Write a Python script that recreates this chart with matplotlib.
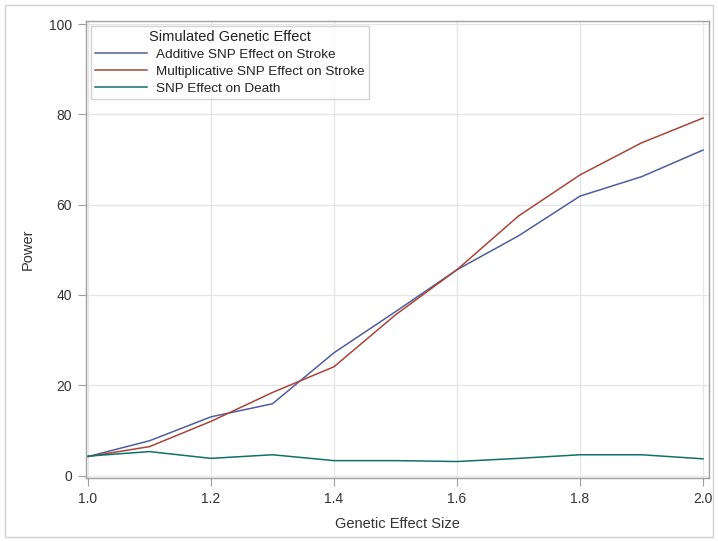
import numpy as np
import matplotlib
matplotlib.use("Agg")
import matplotlib.pyplot as plt
from matplotlib.patches import Rectangle

plt.rcParams['font.family'] = ['Liberation Sans', 'DejaVu Sans']

effect_size = [1.0, 1.1, 1.2, 1.3, 1.4, 1.5, 1.6, 1.7, 1.8, 1.9, 2.0]
additive = [4.2, 7.7, 13.0, 15.9, 27.2, 36.3, 45.6, 53.1, 61.9, 66.2, 72.1]
multiplicative = [4.2, 6.4, 12.0, 18.4, 24.1, 35.6, 45.6, 57.5, 66.6, 73.7, 79.2]
death = [4.3, 5.3, 3.8, 4.6, 3.3, 3.3, 3.1, 3.8, 4.6, 4.6, 3.7]

series_names = ["Additive SNP Effect on Stroke",
                "Multiplicative SNP Effect on Stroke",
                "SNP Effect on Death"]
colors = ["#4F5F99", "#A8453A", "#12706A"]

W, H = 718, 541
fig = plt.figure(figsize=(W / 100, H / 100), dpi=100)
ax = fig.add_axes([86 / W, 1 - 478 / H, (709 - 86) / W, (478 - 21) / H])

for y, name, c in zip([additive, multiplicative, death], series_names, colors):
    ax.plot(effect_size, y, color=c, lw=1.1, label=name)

ax.set_xlim(1 - 2 / 615, 2 + 6 / 615)
ax.set_ylim(-0.55, 100.7)
ax.set_xticks([1.0, 1.2, 1.4, 1.6, 1.8, 2.0])
ax.set_xticklabels(["1.0", "1.2", "1.4", "1.6", "1.8", "2.0"])
ax.set_yticks([0, 20, 40, 60, 80, 100])
ax.grid(True, color="#E6E6E6", lw=1)
ax.set_axisbelow(True)
for s in ax.spines.values():
    s.set_color("#A0A0A0")
    s.set_linewidth(1)
ax.tick_params(direction="out", length=6, color="#A0A0A0", labelsize=10,
               labelcolor="#333333", pad=4)
ax.set_xlabel("Genetic Effect Size", fontsize=10.5, color="#333333", labelpad=8)
ax.set_ylabel("Power", fontsize=10.5, color="#333333", labelpad=10)

leg = ax.legend(loc="upper left", title="Simulated Genetic Effect", fontsize=9.7,
                title_fontsize=10.5, frameon=True, fancybox=False,
                edgecolor="#C8C8C8", borderaxespad=0.35, handlelength=3.9,
                labelspacing=0.34, borderpad=0.3, handletextpad=0.65)
leg.get_frame().set_linewidth(1)
for t in leg.get_texts():
    t.set_color("#222222")
leg.get_title().set_color("#222222")

# light outer border around the graph
fig.patches.append(Rectangle((5 / W, 4 / H), 708 / W, 532 / H,
                             transform=fig.transFigure, fill=False,
                             edgecolor="#D0D0D0", lw=1))

fig.savefig("out.png", dpi=100)
